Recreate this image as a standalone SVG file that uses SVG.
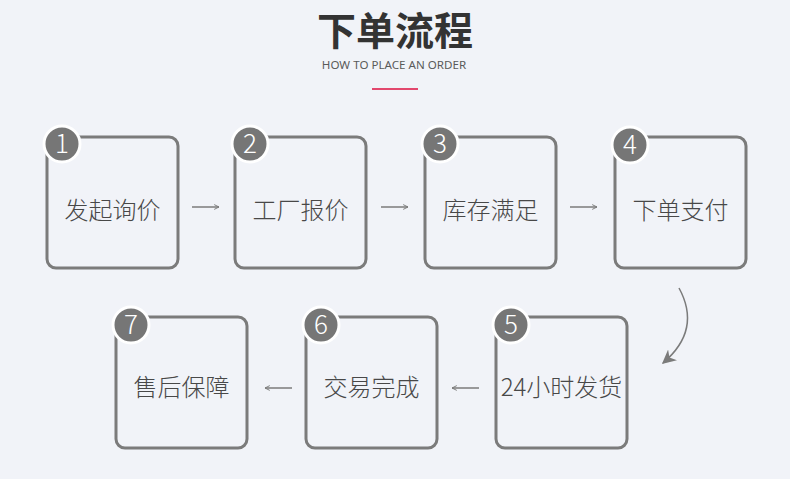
<svg xmlns="http://www.w3.org/2000/svg" width="790" height="479" viewBox="0 0 790 479">
<defs>
<style>
.box{fill:none;stroke:#7b7b7b;stroke-width:3}
.badge{fill:#767676;stroke:#ffffff;stroke-width:3}
.num{font-family:"Noto Sans CJK SC","Noto Sans",sans-serif;font-weight:300;font-size:26px;fill:#ffffff;text-anchor:middle}
.lbl{font-family:"Noto Sans CJK SC","Noto Sans",sans-serif;font-weight:300;font-size:24px;fill:#484848;text-anchor:middle}
.conn{fill:none;stroke:#7b7b7b;stroke-width:1.5}
</style>
<marker id="ah" viewBox="0 0 10 10" refX="9" refY="5" markerWidth="6" markerHeight="6" orient="auto" markerUnits="userSpaceOnUse">
<path d="M1,1 L9,5 L1,9" fill="none" stroke="#7b7b7b" stroke-width="1.6"/>
</marker>
<marker id="ah2" viewBox="0 0 10 10" refX="9" refY="5" markerWidth="14" markerHeight="14" orient="auto" markerUnits="userSpaceOnUse">
<path d="M0,0 L10,5 L0,10 L3,5 Z" fill="#7b7b7b"/>
</marker>
</defs>
<rect width="790" height="479" fill="#f1f3f8"/>
<text x="395" y="45" font-family="Noto Sans CJK SC,sans-serif" font-size="39" font-weight="bold" fill="#333333" text-anchor="middle">下单流程</text>
<text x="394" y="69" font-family="Noto Sans,sans-serif" font-size="11.6" fill="#5a5a5a" text-anchor="middle">HOW TO PLACE AN ORDER</text>
<rect x="372" y="88" width="46" height="2" fill="#e2476d"/>
<g id="connectors">
<path class="conn" d="M192,207 H219" marker-end="url(#ah)"/>
<path class="conn" d="M381,207 H408" marker-end="url(#ah)"/>
<path class="conn" d="M570,207 H597" marker-end="url(#ah)"/>
<path class="conn" d="M679,288 Q702,330 663,363" marker-end="url(#ah2)"/>
<path class="conn" d="M479,388 H452" marker-end="url(#ah)"/>
<path class="conn" d="M292,388 H265" marker-end="url(#ah)"/>
</g>
<g id="node1">
<rect class="box" x="47" y="137" width="131" height="131" rx="9"/>
<circle class="badge" cx="62" cy="144" r="18"/>
<text class="num" x="62" y="153">1</text>
<text class="lbl" x="112.5" y="219">发起询价</text>
</g>
<g id="node2">
<rect class="box" x="235" y="137" width="131" height="131" rx="9"/>
<circle class="badge" cx="250" cy="144" r="18"/>
<text class="num" x="250" y="153">2</text>
<text class="lbl" x="300.5" y="219">工厂报价</text>
</g>
<g id="node3">
<rect class="box" x="425" y="137" width="131" height="131" rx="9"/>
<circle class="badge" cx="440" cy="144" r="18"/>
<text class="num" x="440" y="153">3</text>
<text class="lbl" x="490.5" y="219">库存满足</text>
</g>
<g id="node4">
<rect class="box" x="615" y="137" width="131" height="131" rx="9"/>
<circle class="badge" cx="630" cy="145" r="18"/>
<text class="num" x="630" y="154">4</text>
<text class="lbl" x="680.5" y="219">下单支付</text>
</g>
<g id="node5">
<rect class="box" x="496" y="317" width="131" height="131" rx="9"/>
<circle class="badge" cx="511" cy="325" r="18"/>
<text class="num" x="511" y="334">5</text>
<text class="lbl" x="561.5" y="396">24小时发货</text>
</g>
<g id="node6">
<rect class="box" x="306" y="317" width="131" height="131" rx="9"/>
<circle class="badge" cx="321" cy="325" r="18"/>
<text class="num" x="321" y="334">6</text>
<text class="lbl" x="371.5" y="396">交易完成</text>
</g>
<g id="node7">
<rect class="box" x="116" y="317" width="131" height="131" rx="9"/>
<circle class="badge" cx="131" cy="325" r="18"/>
<text class="num" x="131" y="334">7</text>
<text class="lbl" x="181.5" y="396">售后保障</text>
</g>
</svg>
